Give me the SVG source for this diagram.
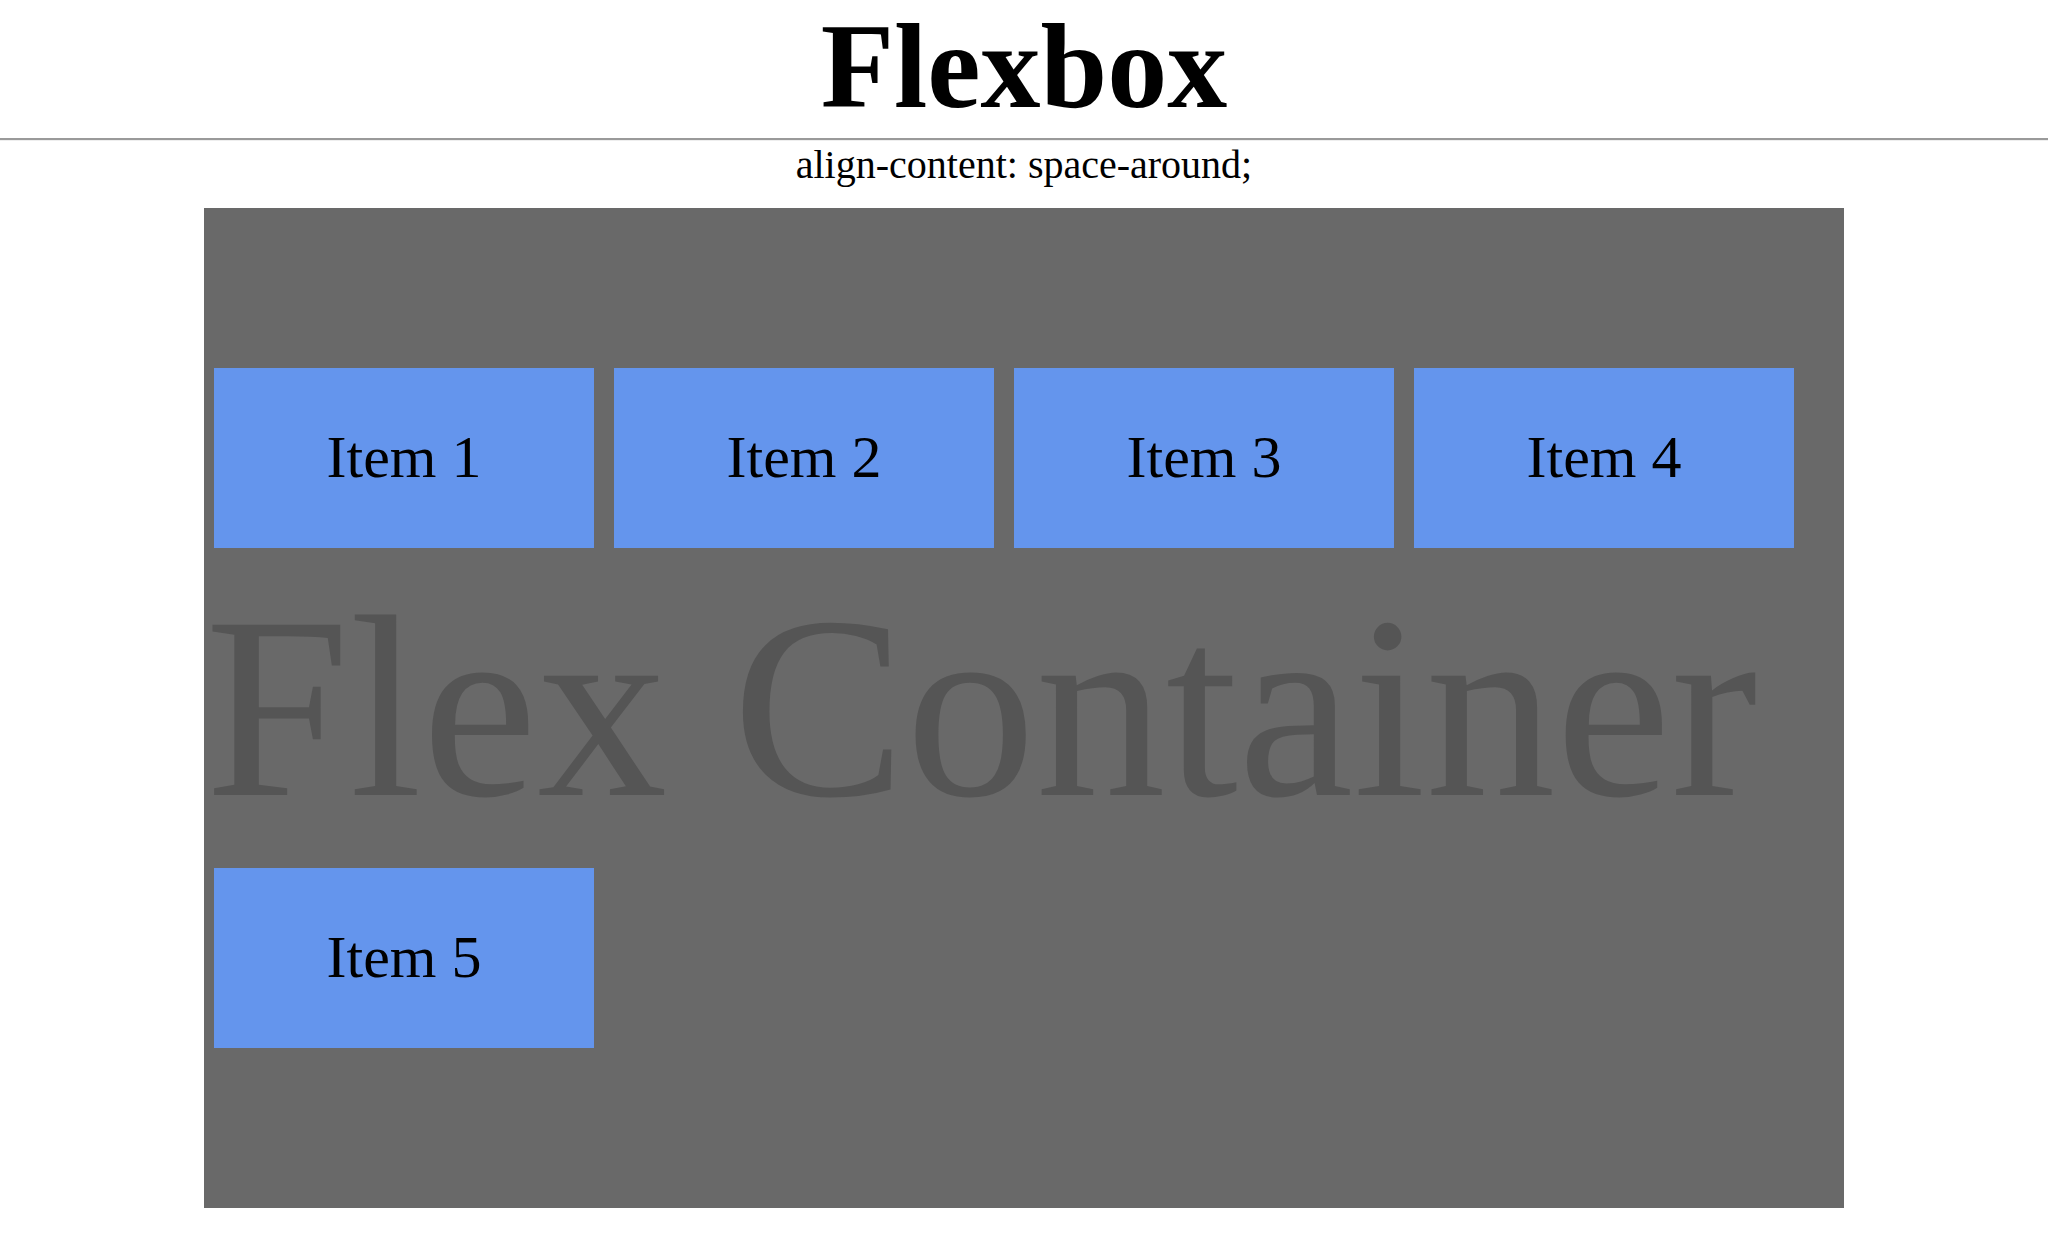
<svg xmlns="http://www.w3.org/2000/svg" width="2048" height="1250" viewBox="0 0 2048 1250">
  <style>
    .serif { font-family: "Liberation Serif", "Times New Roman", serif; }
    .title { font-size: 120px; font-weight: bold; fill: #000; }
    .subtitle { font-size: 40px; fill: #000; }
    .container { fill: #696969; }
    .watermark { font-size: 260px; fill: #555555; }
    .item rect { fill: #6495ED; }
    .item text { font-size: 60px; fill: #000; text-anchor: middle; }
  </style>

  <rect x="0" y="0" width="2048" height="1250" fill="#ffffff"/>

  <!-- page heading -->
  <g id="heading">
    <text class="serif title" x="1024" y="107" text-anchor="middle">Flexbox</text>
    <rect x="0" y="138" width="2048" height="2" fill="#9a9a9a"/>
    <rect x="0" y="140" width="2048" height="1" fill="#eeeeee"/>
    <text class="serif subtitle" x="1024" y="178" text-anchor="middle">align-content: space-around;</text>
  </g>

  <!-- flex container with its background label -->
  <g id="flex-container">
    <rect class="container" x="204" y="208" width="1640" height="1000"/>
    <text class="serif watermark" x="205" y="795">Flex Container</text>
  </g>

  <!-- flex items -->
  <g id="item-1" class="item">
    <rect x="214" y="368" width="380" height="180"/>
    <text class="serif" x="404" y="477">Item 1</text>
  </g>
  <g id="item-2" class="item">
    <rect x="614" y="368" width="380" height="180"/>
    <text class="serif" x="804" y="477">Item 2</text>
  </g>
  <g id="item-3" class="item">
    <rect x="1014" y="368" width="380" height="180"/>
    <text class="serif" x="1204" y="477">Item 3</text>
  </g>
  <g id="item-4" class="item">
    <rect x="1414" y="368" width="380" height="180"/>
    <text class="serif" x="1604" y="477">Item 4</text>
  </g>
  <g id="item-5" class="item">
    <rect x="214" y="868" width="380" height="180"/>
    <text class="serif" x="404" y="977">Item 5</text>
  </g>

  <g id="connectors"/>
</svg>
